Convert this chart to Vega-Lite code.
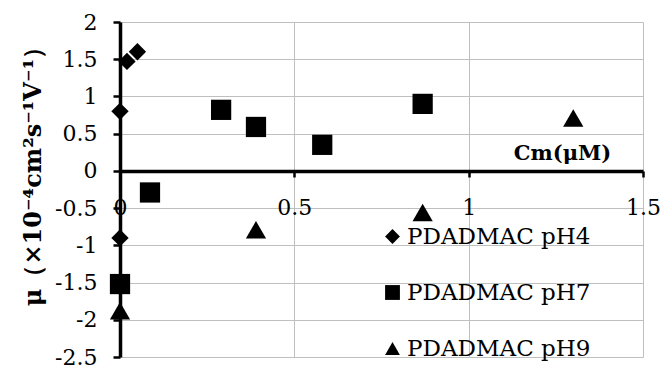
{
  "$schema": "https://vega.github.io/schema/vega-lite/v6.json",
  "autosize": "none",
  "width": 523,
  "height": 335,
  "padding": {"left": 120, "top": 22, "right": 28, "bottom": 12},
  "background": "white",
  "data": {"values": [
    {"s": "PDADMAC pH4", "x": 0, "y": 0.8},
    {"s": "PDADMAC pH4", "x": 0, "y": -0.9},
    {"s": "PDADMAC pH4", "x": 0.02, "y": 1.47},
    {"s": "PDADMAC pH4", "x": 0.05, "y": 1.6},
    {"s": "PDADMAC pH7", "x": 0, "y": -1.52},
    {"s": "PDADMAC pH7", "x": 0.086, "y": -0.29},
    {"s": "PDADMAC pH7", "x": 0.29, "y": 0.82},
    {"s": "PDADMAC pH7", "x": 0.39, "y": 0.59},
    {"s": "PDADMAC pH7", "x": 0.58, "y": 0.35},
    {"s": "PDADMAC pH7", "x": 0.868, "y": 0.9},
    {"s": "PDADMAC pH9", "x": 0, "y": -1.88},
    {"s": "PDADMAC pH9", "x": 0.39, "y": -0.79},
    {"s": "PDADMAC pH9", "x": 0.868, "y": -0.56},
    {"s": "PDADMAC pH9", "x": 1.3, "y": 0.71}
  ]},
  "encoding": {
    "x": {
      "field": "x", "type": "quantitative",
      "scale": {"domain": [0, 1.5], "nice": false, "zero": false},
      "axis": {
        "values": [0, 0.5, 1, 1.5],
        "labelExpr": "'' + datum.value",
        "offset": -186,
        "domainColor": "black", "domainWidth": 3.5,
        "tickColor": "black", "tickWidth": 2.5, "tickSize": 6,
        "labelPadding": 20, "labelFont": "DejaVu Serif", "labelFontSize": 22, "labelColor": "black",
        "labelFlush": false, "labelOverlap": false,
        "grid": true, "gridColor": "#bfbfbf", "gridWidth": 1,
        "title": "Cm(μM)", "titleFont": "DejaVu Serif", "titleFontSize": 21, "titleFontWeight": "bold",
        "titleColor": "black", "titleX": 442, "titleY": -12, "titleAlign": "center", "titleBaseline": "alphabetic"
      }
    },
    "y": {
      "field": "y", "type": "quantitative",
      "scale": {"domain": [-2.5, 2], "nice": false, "zero": false},
      "axis": {
        "values": [-2.5, -2, -1.5, -1, -0.5, 0, 0.5, 1, 1.5, 2],
        "labelExpr": "'' + datum.value",
        "domainColor": "black", "domainWidth": 3.5,
        "tickColor": "black", "tickWidth": 2.5, "tickSize": 7,
        "labelPadding": 16, "labelFont": "DejaVu Serif", "labelFontSize": 22, "labelColor": "black",
        "labelFlush": false, "labelOverlap": false,
        "grid": true, "gridColor": "#bfbfbf", "gridWidth": 1,
        "title": "μ（×10⁻⁴cm²s⁻¹V⁻¹）", "titleFont": "DejaVu Serif", "titleFontSize": 24, "titleFontWeight": "bold",
        "titleColor": "black", "titleX": -87, "titleY": 148, "titleAlign": "center", "titleBaseline": "middle", "titleAngle": -90
      }
    },
    "shape": {
      "field": "s", "type": "nominal",
      "scale": {"domain": ["PDADMAC pH4", "PDADMAC pH7", "PDADMAC pH9"], "range": ["diamond", "square", "triangle-up"]},
      "legend": {
        "orient": "none", "legendX": 261, "legendY": 203, "title": null,
        "labelFont": "DejaVu Serif", "labelFontSize": 23, "labelColor": "black", "labelLimit": 400,
        "symbolSize": 220, "symbolFillColor": "black", "symbolStrokeColor": "black", "symbolType": "diamond",
        "rowPadding": 32, "labelOffset": 3
      }
    }
  },
  "layer": [
    {
      "transform": [{"filter": "datum.s === 'PDADMAC pH4'"}],
      "mark": {"type": "point", "filled": true, "opacity": 1, "color": "black", "size": 300}
    },
    {
      "transform": [{"filter": "datum.s !== 'PDADMAC pH4'"}],
      "mark": {"type": "point", "filled": true, "opacity": 1, "color": "black", "size": 410}
    }
  ],
  "config": {"view": {"stroke": null}}
}
